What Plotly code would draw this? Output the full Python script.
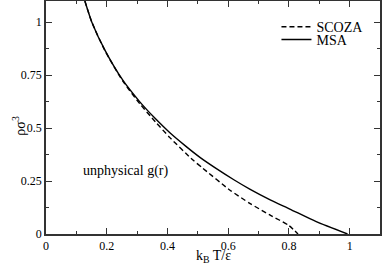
import plotly.graph_objects as go

# MSA curve
msa_T = [0.128, 0.151, 0.194, 0.253, 0.309, 0.36, 0.408, 0.46, 0.507, 0.56, 0.62, 0.671, 0.74, 0.803, 0.89, 0.993]
msa_rho = [1.10, 1.00, 0.868, 0.726, 0.624, 0.545, 0.478, 0.415, 0.362, 0.31, 0.255, 0.212, 0.16, 0.118, 0.058, 0.0]

# SCOZA curve
scoza_T = [0.128, 0.151, 0.194, 0.253, 0.309, 0.36, 0.408, 0.484, 0.516, 0.605, 0.671, 0.737, 0.80, 0.83]
scoza_rho = [1.10, 1.00, 0.866, 0.722, 0.615, 0.53, 0.455, 0.349, 0.311, 0.208, 0.145, 0.09, 0.04, 0.0]

x_ticks = [0, 0.2, 0.4, 0.6, 0.8, 1]
x_ticklabels = ["0", "0.2", "0.4", "0.6", "0.8", "1"]
y_ticks = [0, 0.25, 0.5, 0.75, 1]
y_ticklabels = ["0", "0.25", "0.5", "0.75", "1"]

font = "Liberation Serif"

fig = go.Figure()
fig.add_trace(go.Scatter(x=scoza_T, y=scoza_rho, mode="lines", name="SCOZA", legend="legend",
                         line=dict(color="black", width=1.4, dash="5px,3px", shape="spline", smoothing=0.6)))
fig.add_trace(go.Scatter(x=msa_T, y=msa_rho, mode="lines", name="MSA", legend="legend2",
                         line=dict(color="black", width=1.4, shape="spline", smoothing=0.6)))

fig.add_annotation(x=0.261, y=0.297, text="unphysical g(r)", showarrow=False,
                   xanchor="center", yanchor="middle",
                   font=dict(family=font, size=14, color="black"))

# axis titles
fig.add_annotation(x=0.5, y=0, xref="paper", yref="paper", text="k<sub>B</sub> T/ε",
                   showarrow=False, xanchor="center", yanchor="middle", yshift=-22,
                   font=dict(family=font, size=14, color="black"))
fig.add_annotation(x=0, y=0.465, xref="paper", yref="paper", text="ρσ<sup>3</sup>",
                   showarrow=False, textangle=-90, xanchor="center", yanchor="middle", xshift=-27,
                   font=dict(family=font, size=14, color="black"))

axis_common = dict(showline=True, linecolor="#333333", linewidth=1.6, mirror="ticks",
                   ticks="inside", ticklen=6, tickcolor="#333333", tickwidth=1.2,
                   showgrid=False, zeroline=False, automargin=False,
                   tickfont=dict(family=font, size=12, color="black"))

fig.update_xaxes(range=[0, 1.1], tickvals=x_ticks, ticktext=x_ticklabels, ticklabelstandoff=0,
                 minor=dict(ticks="inside", ticklen=3, dtick=0.1, tick0=0, tickcolor="#333333", showgrid=False),
                 **axis_common)
fig.update_yaxes(range=[0, 1.1], tickvals=y_ticks, ticktext=y_ticklabels,
                 minor=dict(ticks="inside", ticklen=3, dtick=0.125, tick0=0, tickcolor="#333333", showgrid=False),
                 **axis_common)

leg_common = dict(xanchor="left", yanchor="middle", bgcolor="rgba(0,0,0,0)",
                  font=dict(family=font, size=14, color="black"), tracegroupgap=0,
                  itemwidth=30)
fig.update_layout(width=382, height=266, margin=dict(l=46, r=2, t=1, b=32),
                  plot_bgcolor="white", paper_bgcolor="white",
                  legend=dict(x=0.69, y=0.888, **leg_common),
                  legend2=dict(x=0.69, y=0.833, **leg_common),
                  showlegend=True)

fig.write_html("out.html", config={"displayModeBar": False},
               post_script="document.body.style.margin='0';")
